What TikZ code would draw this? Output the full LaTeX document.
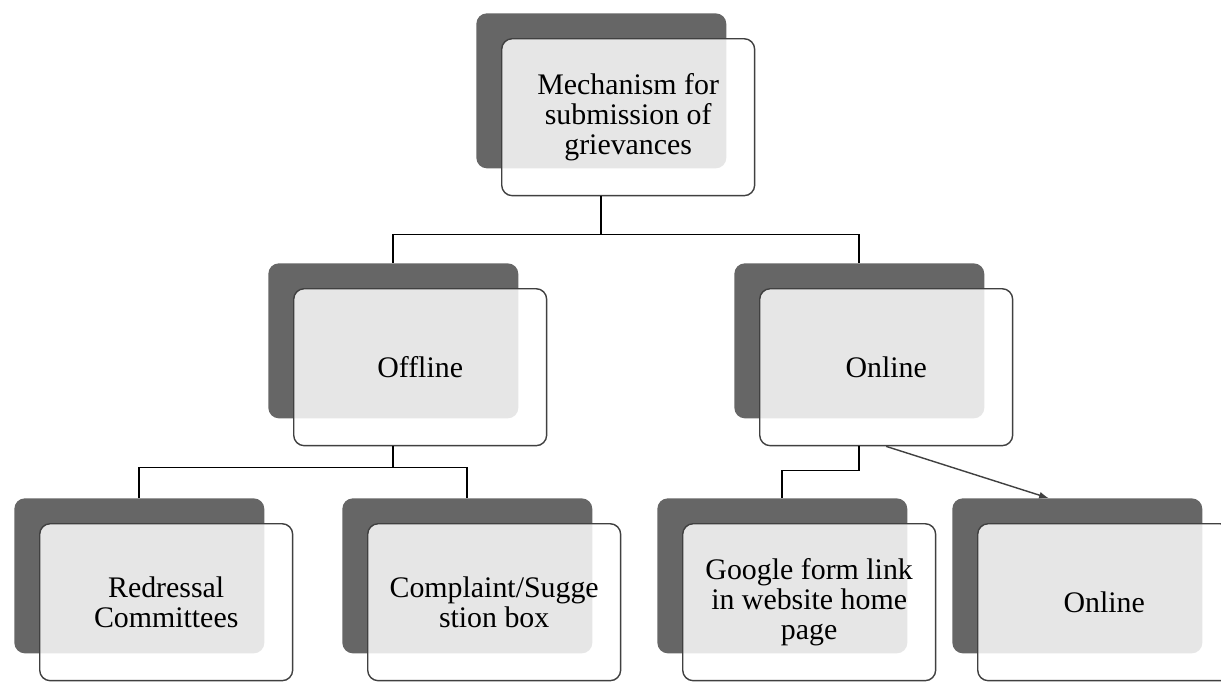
\documentclass[tikz,border=0pt]{standalone}
\usepackage{fontspec}
\setmainfont{Liberation Serif}
\begin{document}
\begin{tikzpicture}[x=0.02cm, y=-0.02cm,
    back/.style={fill=black!60, rounded corners=6pt, minimum width=5cm, minimum height=3.1cm, anchor=north west, inner sep=0pt},
    front/.style={draw=black!75, line width=0.8pt, fill=white, fill opacity=0.84, text opacity=1, rounded corners=6pt, minimum width=5.06cm, minimum height=3.14cm, anchor=north west, inner sep=2pt, align=center, font=\fontsize{17}{17}\selectfont},
    link/.style={line width=1pt}]
            \fill[white] (0,0) rectangle (1221,681);
            \useasboundingbox (0,0) rectangle (1221,681);
            % top
            \node[back] (mechb) at (476,13) {};
            \node[front] (mech) at (501,38) {Mechanism for\\submission of\\grievances};
            % second row
            \node[back] (offlb) at (268,263) {};
            \node[front] (offl) at (293,288) {Offline};
            \node[back] (onlb) at (734,263) {};
            \node[front] (onl) at (759,288) {Online};
            % third row
            \node[back] (redrb) at (14,498) {};
            \node[front] (redr) at (39,523) {Redressal\\Committees};
            \node[back] (compb) at (342,498) {};
            \node[front] (comp) at (367,523) {Complaint/Sugge\\stion box};
            \node[back] (googb) at (657,498) {};
            \node[front] (goog) at (682,523) {Google form link\\in website home\\page};
            \node[back] (onl2b) at (952,498) {};
            \node[front] (onl2) at (977,523) {Online};
            % connectors
            \draw[link] (mech.south -| mechb.north) -- ++(0,38) -| (offlb.north);
            \draw[link] (mech.south -| mechb.north) -- ++(0,38) -| (onlb.north);
            \draw[link] (offl.south -| offlb.north) -- ++(0,21) -| (redrb.north);
            \draw[link] (offl.south -| offlb.north) -- ++(0,21) -| (compb.north);
            \draw[link] (onl.south -| onlb.north) -- ++(0,24) -| (googb.north);
            \draw[-latex, line width=0.8pt, black!75] (onl.south) -- ([xshift=-0.58cm]onl2b.north);
        \end{tikzpicture}
\end{document}
